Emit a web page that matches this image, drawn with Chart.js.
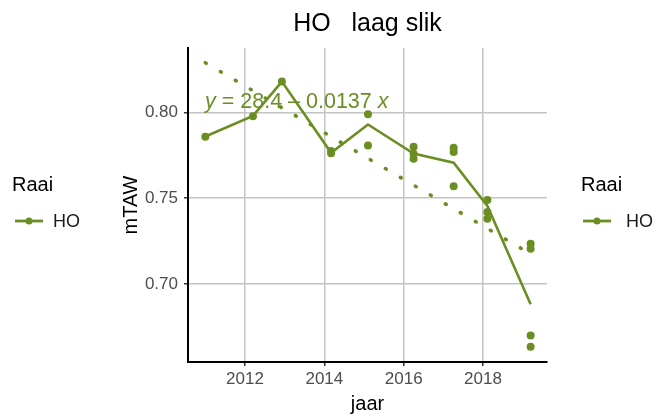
<!DOCTYPE html>
<html>
<head>
<meta charset="utf-8">
<script src="https://cdn.jsdelivr.net/npm/chart.js@4/dist/chart.umd.min.js"></script>
<style>
  body { margin: 0; background: #fff; }
  #wrap { width: 656px; height: 419px; }
</style>
</head>
<body>
<div id="wrap"><canvas id="chart" width="656" height="419"></canvas></div>
<script>
// data
const surveyYears = [2011.0, 2012.2, 2012.93, 2014.17, 2015.1, 2016.25, 2017.26, 2018.11, 2019.2];
const heights = [
  [0.7858],
  [0.7978],
  [0.818],
  [0.7775, 0.7762],
  [0.799, 0.7808],
  [0.780, 0.776, 0.773],
  [0.7795, 0.777, 0.757],
  [0.749, 0.742, 0.738],
  [0.7234, 0.7205, 0.670, 0.6634]
];
const meanLine = [0.786, 0.798, 0.818, 0.7765, 0.793, 0.776, 0.7707, 0.7455, 0.6882];
const trendYears = [2011.0, 2019.2];
const trendValues = [0.829, 0.7175];
const xTicks = [2012, 2014, 2016, 2018];
const yTicks = [0.70, 0.75, 0.80];

const green = "#6b8e23";
Chart.defaults.font.family = "'Liberation Sans', Arial, sans-serif";

const pointData = [];
surveyYears.forEach((yr, i) => heights[i].forEach(v => pointData.push({ x: yr, y: v })));

// texts, legends and title
const extras = {
  id: "extras",
  afterDatasetsDraw(chart) {
    const c = chart.ctx;
    const area = chart.chartArea;
    c.save();
    // regression equation
    c.fillStyle = green;
    c.textBaseline = "alphabetic";
    c.textAlign = "left";
    let x = area.left + 17;
    const base = 108;
    const parts = [["italic", "y"], ["normal", " = 28.4 \u2013 0.0137 "], ["italic", "x"]];
    parts.forEach(([style, t]) => {
      c.font = style + " 21.5px 'Liberation Sans', Arial, sans-serif";
      c.fillText(t, x, base);
      x += c.measureText(t).width;
    });

    // title
    c.fillStyle = "#000";
    c.textAlign = "center";
    c.font = "25px 'Liberation Sans', Arial, sans-serif";
    c.fillText("HO   laag slik", (area.left + area.right) / 2, 31);

    // axis titles
    c.font = "20px 'Liberation Sans', Arial, sans-serif";
    c.fillText("jaar", (area.left + area.right) / 2, 410);
    c.save();
    c.translate(137, (area.top + area.bottom) / 2);
    c.rotate(-Math.PI / 2);
    c.fillText("mTAW", 0, 0);
    c.restore();

    // legends, left and right
    [[12, 15, 53], [581, 583, 626]].forEach(([tx, kx, lx]) => {
      c.fillStyle = "#000";
      c.textAlign = "left";
      c.font = "20px 'Liberation Sans', Arial, sans-serif";
      c.fillText("Raai", tx, 191);
      c.strokeStyle = green;
      c.lineWidth = 2.8;
      c.beginPath();
      c.moveTo(kx, 221);
      c.lineTo(kx + 28, 221);
      c.stroke();
      c.fillStyle = green;
      c.beginPath();
      c.arc(kx + 14, 221, 3.5, 0, Math.PI * 2);
      c.fill();
      c.fillStyle = "#1a1a1a";
      c.font = "18px 'Liberation Sans', Arial, sans-serif";
      c.fillText("HO", lx, 227);
    });
    c.restore();
  }
};

new Chart(document.getElementById("chart"), {
  type: "scatter",
  data: {
    datasets: [
      {
        label: "trend",
        data: trendYears.map((yr, i) => ({ x: yr, y: trendValues[i] })),
        showLine: true,
        borderColor: green,
        borderWidth: 3.6,
        borderDash: [1, 16.4],
        borderCapStyle: "round",
        pointRadius: 0,
        order: 3
      },
      {
        label: "HO",
        data: surveyYears.map((yr, i) => ({ x: yr, y: meanLine[i] })),
        showLine: true,
        borderColor: green,
        borderWidth: 2.6,
        pointRadius: 0,
        order: 2
      },
      {
        label: "HO points",
        data: pointData,
        backgroundColor: green,
        borderColor: green,
        pointRadius: 4,
        borderWidth: 0,
        order: 1
      }
    ]
  },
  options: {
    responsive: false,
    animation: false,
    layout: { padding: { top: 48, right: 109, left: 0, bottom: 0 } },
    plugins: { legend: { display: false }, tooltip: { enabled: false } },
    scales: {
      x: {
        type: "linear",
        min: 2010.563,
        max: 2019.613,
        afterBuildTicks: s => { s.ticks = xTicks.map(v => ({ value: v })); },
        afterFit: s => { s.height = 57; },
        ticks: { color: "#4d4d4d", font: { size: 17 }, padding: 3, maxRotation: 0, callback: v => String(v) },
        grid: { color: "#c4c4c4", lineWidth: 1.5, tickColor: "#333", tickLength: 4, tickWidth: 1.5 },
        border: { color: "#000", width: 2 }
      },
      y: {
        type: "linear",
        min: 0.6545,
        max: 0.8376,
        afterBuildTicks: s => { s.ticks = yTicks.map(v => ({ value: v })); },
        afterFit: s => { s.width = 188; },
        ticks: { color: "#4d4d4d", font: { size: 17 }, padding: 6, callback: v => v.toFixed(2) },
        grid: { color: "#c4c4c4", lineWidth: 1.5, tickColor: "#333", tickLength: 4, tickWidth: 1.5 },
        border: { color: "#000", width: 2 }
      }
    }
  },
  plugins: [extras]
});
</script>
</body>
</html>
